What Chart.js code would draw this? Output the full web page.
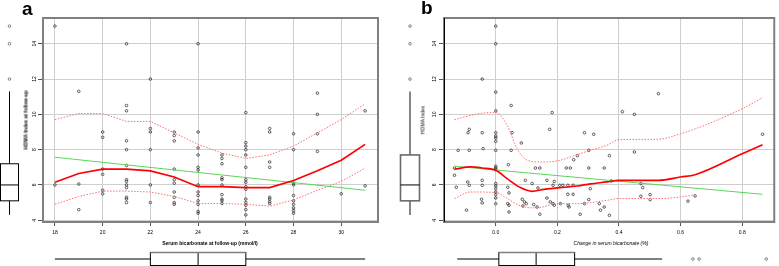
<!DOCTYPE html>
<html><head><meta charset="utf-8">
<script src="https://cdn.jsdelivr.net/npm/chart.js@4.4.0/dist/chart.umd.min.js"></script>
<style>
html,body{margin:0;padding:0;background:#fff;width:779px;height:266px;overflow:hidden;position:relative;font-family:"Liberation Sans",Arial,sans-serif}
canvas{position:absolute;top:0}
#ca{left:0}
#cb{left:390px}
.lab{position:absolute;white-space:nowrap;color:#000;font-size:5px;line-height:1;transform:translate(-50%,-50%)}
.rot{transform:translate(-50%,-50%) rotate(-90deg)}
.panel{position:absolute;font-weight:bold;font-size:19px;line-height:1;color:#000}
</style></head><body>
<canvas id="ca" width="390" height="266"></canvas>
<canvas id="cb" width="389" height="266"></canvas>
<div class="panel" style="left:22px;top:-1px">a</div>
<div class="panel" style="left:421px;top:-2px">b</div>
<div class="lab" style="left:210px;top:243px;font-weight:bold">Serum bicarbonate at follow-up (mmol/l)</div>
<div class="lab rot" style="left:26px;top:120px;font-weight:bold">HOMA Index at follow-up</div>
<div class="lab" style="left:611px;top:243px;font-style:italic">Change in serum bicarbonate (%)</div>
<div class="lab rot" style="left:423px;top:120px">HOMA Index</div>
<script>
// ---------- Panel a data ----------
const aBicarbonate = [18,18, 19,19,19, 20,20,20,20,20,20,
  21,21,21,21,21,21,21,21,21,21,21,21,21, 22,22,22,22,22,22,
  23,23,23,23,23,23,23,23,23,23, 24,24,24,24,24,24,24,24,24,24,24,24,24,
  25,25,25,25,25,25,25,25,25,25, 26,26,26,26,26,26,26,26,26,26,26,26,26,26,26,
  27,27,27,27,27,27,27,27, 28,28,28,28,28,28,28,28,28,28, 29,29,29,29, 30, 31,31];
const aHoma = [15.0,6.0, 11.3,6.05,4.6, 9.0,8.7,6.9,6.6,5.7,5.5,
  14.0,10.5,10.2,8.5,8.0,7.1,6.3,6.2,6.0,5.85,5.3,5.2,5.0, 12.0,9.2,9.0,8.0,6.0,5.0,
  9.0,8.8,8.5,6.9,6.3,6.1,5.6,5.3,5.0,4.9, 14.0,9.0,8.1,7.7,7.0,6.85,6.0,5.6,5.4,5.1,4.9,4.5,4.4,
  7.7,7.5,7.2,6.4,6.3,6.0,5.45,5.2,5.1,4.95, 10.1,8.4,8.2,8.0,7.7,7.0,6.3,6.15,5.9,5.75,5.2,5.0,4.85,4.6,4.3,
  9.2,9.0,7.3,7.0,5.3,5.2,5.05,4.95, 8.9,8.0,6.1,6.0,5.4,5.1,4.9,4.7,4.55,4.4, 11.2,10.0,8.9,7.9, 5.5, 10.2,5.95];
const aCurveX = [18,19,20,21,22,23,24,25,26,27,28,29,30,31];
const aFit    = [6.15,6.65,6.9,6.9,6.8,6.45,5.9,5.9,5.85,5.85,6.25,6.8,7.4,8.3];
const aUpper  = [9.7,10.05,10.05,9.6,9.6,8.95,8.3,7.8,7.5,7.7,8.2,8.95,9.7,10.6];
const aLower  = [4.9,5.35,5.65,5.65,5.6,5.35,4.95,4.95,4.9,4.8,5.15,5.7,6.2,6.95];
const aLinX = [18,31];
const aLinY = [7.57,5.7];
const aXTicks = [18,20,22,24,26,28,30];
const yTicks = [4,6,8,10,12,14];
// boxplots panel a: [low whisker, Q1, median, Q3, high whisker]
const aHomaBox = [4.3,5.1,6.0,7.2,11.3];
const aHomaOut = [12,14,15];
const aBicarbBox = [18,22,24,26,31];
const aBicarbOut = [];

// ---------- Panel b data ----------
const bChange = [0,0,-0.044,0,0.05,0,0.183,
  -0.086,-0.09,-0.044,0,0,0,0,0.053,0.175,0.288,0.318,
  0.083,-0.041,-0.122,-0.086,0,0.05,0.265,0.253,0.302,
  0.041,0,0,0,0.129,0.143,0.229,0.242,0.302,0.352,-0.134,-0.134,
  -0.091,-0.044,-0.128,-0.086,-0.044,
  0,0,0,0,0,0,0,
  0.039,0.043,0.096,0.118,0.137,0.166,0.19,0.186,
  0.208,0.218,0.234,0.251,0.234,0.251,0.307,
  -0.046,-0.044,-0.095,0.039,0.043,0.043,
  0.086,0.093,0.099,0.088,0.123,0.134,0.143,
  0.166,0.177,0.186,0.19,0.21,0.235,0.238,0.274,
  0.288,0.302,0.336,0.34,
  0.411,0.45,0.528,0.369,0.45,0.375,0.471,0.477,0.501,0.501,0.471,0.352,0.369,0.624,0.647,0.866];
const bHoma = [15.0,14.0,12.0,11.26,10.5,10.2,10.1,
  9.15,8.96,8.96,8.96,8.77,8.66,8.47,8.96,9.15,8.96,8.87,
  8.38,8.06,7.96,7.96,7.96,7.96,7.66,7.43,7.96,
  7.15,7.06,6.96,6.87,6.96,6.96,6.96,6.96,6.96,6.96,6.96,6.55,
  6.17,6.26,5.87,5.98,5.98,
  6.08,5.94,5.79,5.6,5.45,5.26,4.94,
  5.87,5.55,6.26,6.08,5.83,6.26,6.2,5.98,
  5.98,5.98,5.98,5.98,5.47,5.47,5.79,
  5.19,4.98,4.57,4.94,4.85,4.47,
  5.19,5.04,4.94,4.81,4.89,4.75,4.34,
  5.26,5.04,4.94,4.85,4.94,4.85,4.75,4.34,
  4.94,5.17,4.94,4.57,
  10.15,10.0,11.17,7.66,7.87,6.23,6.08,5.85,5.45,5.17,5.36,4.75,4.28,5.08,5.38,8.87];
const bCurveX = [-0.134,-0.082,-0.044,0,0.037,0.08,0.118,0.156,0.199,0.264,0.307,0.361,0.4,0.528,0.6,0.647,0.8,0.866];
const bFit    = [6.89,7.02,6.96,6.83,6.36,5.85,5.64,5.75,5.83,5.94,6.06,6.17,6.26,6.26,6.45,6.58,7.77,8.28];
const bUpperX = [-0.134,-0.082,-0.044,0,0.037,0.069,0.102,0.145,0.199,0.264,0.307,0.361,0.4,0.528,0.6,0.663,0.8,0.866];
const bUpper  = [9.7,9.94,10.07,10.1,9.38,8.06,7.4,7.3,7.36,7.72,7.96,8.25,8.57,8.59,8.9,9.28,10.32,10.94];
const bLowerX = [-0.134,-0.082,0,0.037,0.08,0.134,0.199,0.264,0.361,0.4,0.528,0.6,0.647];
const bLower  = [5.23,5.6,5.57,5.23,4.81,4.7,4.94,4.94,5.13,5.23,5.23,5.32,5.45];
const bLinX = [-0.134,0.866];
const bLinY = [7.06,5.47];
const bXTicks = [0,0.2,0.4,0.6,0.8];
const bHomaBox = [4.3,5.1,6.0,7.7,11.3];
const bHomaOut = [12,14,15];
const bChangeBox = [-0.125,0.01,0.131,0.256,0.54];
const bChangeOut = [0.64,0.66,0.878];

const FONT = '"Liberation Sans", Arial, sans-serif';
const pts = (xs, ys) => xs.map((x,i)=>({x:x, y:ys[i]}));

const framePlugin = {
  id: 'frame',
  afterDraw(chart, args, o) {
    const {ctx, chartArea: ca, scales: {x, y}} = chart;
    ctx.save();
    ctx.strokeStyle = '#808080'; ctx.lineWidth = 2;
    ctx.strokeRect(ca.left, ca.top, ca.right - ca.left, ca.bottom - ca.top);
    if (o.leftBlack) {
      ctx.strokeStyle = '#000'; ctx.lineWidth = 1;
      ctx.beginPath(); ctx.moveTo(ca.left + 0.5, ca.top); ctx.lineTo(ca.left + 0.5, ca.bottom); ctx.stroke();
    }
    ctx.fillStyle = '#000'; ctx.font = '5px ' + FONT;
    o.yTicks.forEach(v => {
      const py = y.getPixelForValue(v);
      ctx.save(); ctx.translate(o.yLabelX, py); ctx.rotate(-Math.PI / 2);
      ctx.textAlign = 'center'; ctx.textBaseline = 'middle';
      ctx.fillText(String(v), 0, 0); ctx.restore();
    });
    const vb = o.vbox, x0 = o.vLeft, x1 = o.vRight, xc = (x0 + x1) / 2;
    ctx.strokeStyle = o.vColor; ctx.lineWidth = o.vWidth;
    const Y = v => y.getPixelForValue(v);
    ctx.beginPath();
    ctx.moveTo(xc, Y(vb[4])); ctx.lineTo(xc, Y(vb[3]));
    ctx.moveTo(xc, Y(vb[1])); ctx.lineTo(xc, Y(vb[0]));
    ctx.stroke();
    ctx.strokeRect(x0, Y(vb[3]), x1 - x0, Y(vb[1]) - Y(vb[3]));
    ctx.strokeStyle = '#000'; ctx.lineWidth = 1;
    ctx.beginPath(); ctx.moveTo(x0, Y(vb[2])); ctx.lineTo(x1, Y(vb[2])); ctx.stroke();
    ctx.strokeStyle = '#555'; ctx.lineWidth = 0.7;
    o.vOut.forEach(v => { ctx.beginPath(); ctx.arc(xc, Y(v), 1.3, 0, Math.PI * 2); ctx.stroke(); });
    const hb = o.hbox, y0 = o.hTop, y1 = o.hBottom, yc = (y0 + y1) / 2;
    const X = v => x.getPixelForValue(v);
    ctx.strokeStyle = '#000'; ctx.lineWidth = 1;
    ctx.beginPath();
    ctx.moveTo(X(hb[0]), yc); ctx.lineTo(X(hb[1]), yc);
    ctx.moveTo(X(hb[3]), yc); ctx.lineTo(X(hb[4]), yc);
    ctx.moveTo(X(hb[2]), y0); ctx.lineTo(X(hb[2]), y1);
    ctx.stroke();
    ctx.strokeRect(X(hb[1]), y0, X(hb[3]) - X(hb[1]), y1 - y0);
    ctx.strokeStyle = '#808080'; ctx.lineWidth = 1.5;
    ctx.beginPath(); ctx.moveTo(X(hb[1]), y0); ctx.lineTo(X(hb[3]), y0); ctx.stroke();
    ctx.strokeStyle = '#555'; ctx.lineWidth = 0.7;
    o.hOut.forEach(v => { ctx.beginPath(); ctx.arc(X(v), yc, 1.3, 0, Math.PI * 2); ctx.stroke(); });
    ctx.restore();
  }
};

function makeChart(id, c) {
  const interp = c.smooth ? 'monotone' : 'default';
  return new Chart(document.getElementById(id), {
    type: 'scatter',
    data: { datasets: [
      { data: pts(c.px, c.py), pointStyle: 'circle', pointRadius: 1.3, pointBorderWidth: 0.75,
        pointBorderColor: '#2e2e2e', pointBackgroundColor: 'rgba(0,0,0,0)', showLine: false, order: 5 },
      { data: pts(c.linX, c.linY), showLine: true, borderColor: '#5ad65a', borderWidth: 1, pointRadius: 0, order: 3 },
      { data: pts(c.upX, c.up), showLine: true, borderColor: '#ff6e6e', borderWidth: 1, borderDash: [1.5, 1.5], pointRadius: 0, order: 2, cubicInterpolationMode: interp },
      { data: pts(c.loX, c.lo), showLine: true, borderColor: '#ff6e6e', borderWidth: 1, borderDash: [1.5, 1.5], pointRadius: 0, order: 2, cubicInterpolationMode: interp },
      { data: pts(c.fitX, c.fit), showLine: true, borderColor: '#ff0000', borderWidth: 1.7, pointRadius: 0, order: 1, cubicInterpolationMode: interp }
    ]},
    options: {
      responsive: false, animation: false, devicePixelRatio: 1,
      layout: { padding: { top: 18, right: c.padRight, left: 0, bottom: 0 } },
      plugins: { legend: { display: false }, tooltip: { enabled: false }, frame: c.frame },
      scales: {
        x: { type: 'linear', min: c.xmin, max: c.xmax,
          afterBuildTicks: s => { s.ticks = c.xTicks.map(v => ({ value: v })); },
          afterFit: s => { s.height = 44; },
          grid: { color: '#cfcfcf', lineWidth: 1, tickLength: 4, tickColor: '#555', drawTicks: true },
          border: { display: false },
          ticks: { font: { size: 5, family: FONT }, color: '#000', padding: 4, maxRotation: 0, autoSkip: false,
            callback: c.xFmt } },
        y: { type: 'linear', min: 3.9, max: 15.46,
          afterBuildTicks: s => { s.ticks = yTicks.map(v => ({ value: v })); },
          afterFit: s => { s.width = c.yWidth; },
          grid: { color: '#cfcfcf', lineWidth: 1, tickLength: 5, tickColor: '#555', drawTicks: true },
          border: { display: false },
          ticks: { display: false } }
      }
    },
    plugins: [framePlugin]
  });
}

makeChart('ca', {
  px: aBicarbonate, py: aHoma, linX: aLinX, linY: aLinY,
  fitX: aCurveX, fit: aFit, upX: aCurveX, up: aUpper, loX: aCurveX, lo: aLower,
  xmin: 17.5, xmax: 31.54, xTicks: aXTicks, xFmt: v => String(v),
  padRight: 12, yWidth: 43, smooth: false,
  frame: { yTicks: yTicks, yLabelX: 35, vbox: aHomaBox, vOut: aHomaOut, vLeft: 0.5, vRight: 18.5,
    vColor: '#000', vWidth: 1, hbox: aBicarbBox, hOut: aBicarbOut, hTop: 252.5, hBottom: 265.5, leftBlack: false }
});
makeChart('cb', {
  px: bChange, py: bHoma, linX: bLinX, linY: bLinY,
  fitX: bCurveX, fit: bFit, upX: bUpperX, up: bUpper, loX: bLowerX, lo: bLower,
  xmin: -0.168, xmax: 0.904, xTicks: bXTicks, xFmt: v => v.toFixed(1),
  padRight: 1, yWidth: 54, smooth: true,
  frame: { yTicks: yTicks, yLabelX: 45, vbox: bHomaBox, vOut: bHomaOut, vLeft: 10.5, vRight: 29.5,
    vColor: '#6a6a6a', vWidth: 1.6, hbox: bChangeBox, hOut: bChangeOut, hTop: 252.5, hBottom: 265.5, leftBlack: true }
});
</script>
</body></html>
